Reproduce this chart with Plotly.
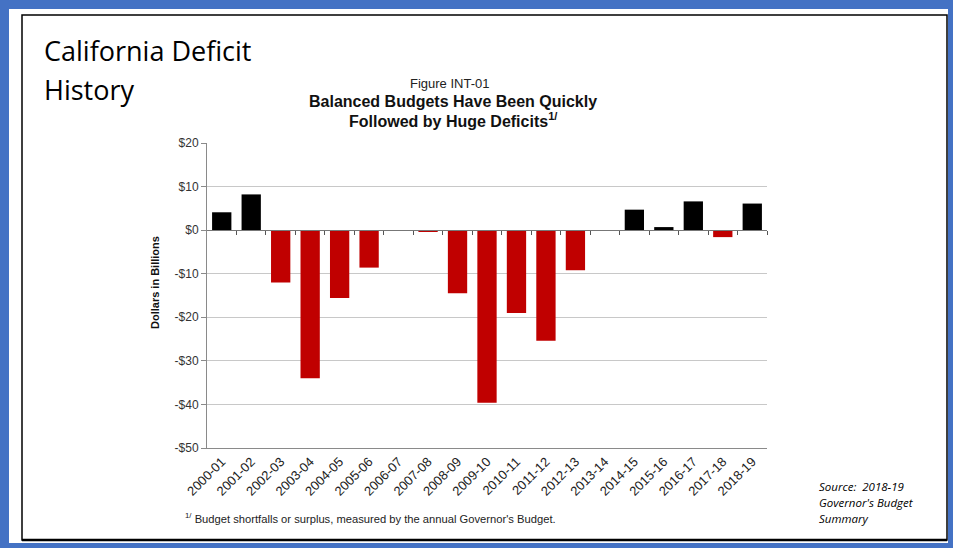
import plotly.graph_objects as go

# Budget balance by fiscal year, in billions of dollars
years = ["2000-01", "2001-02", "2002-03", "2003-04", "2004-05", "2005-06",
         "2006-07", "2007-08", "2008-09", "2009-10", "2010-11", "2011-12",
         "2012-13", "2013-14", "2014-15", "2015-16", "2016-17", "2017-18",
         "2018-19"]
balance = [4.1, 8.2, -12.0, -34.0, -15.6, -8.6, 0.0, -0.3, -14.5, -39.6,
           -19.0, -25.4, -9.2, 0.0, 4.7, 0.7, 6.6, -1.6, 6.1]

y_ticks = [20, 10, 0, -10, -20, -30, -40, -50]
y_tick_text = [("-$%d" % abs(v)) if v < 0 else ("$%d" % v) for v in y_ticks]

SURPLUS = "#000000"
DEFICIT = "#C00000"
AXIS_GREY = "#8a8a8a"
GRID_GREY = "#c8c8c8"

W, H = 953, 548
PL, PR, PT, PB = 207, 767, 143, 448   # plot area in page pixels


def px(x):
    return (x - PL) / (PR - PL)


def py(y):
    return (PB - y) / (PB - PT)


colors = [SURPLUS if v >= 0 else DEFICIT for v in balance]

fig = go.Figure()
fig.add_trace(go.Bar(
    x=years, y=balance,
    marker=dict(color=colors, line=dict(width=0)),
    hoverinfo="x+y", showlegend=False,
))
# carrier for the overlaid axis that draws the zero line with boundary ticks
fig.add_trace(go.Scatter(x=[None], y=[None], xaxis="x2", yaxis="y",
                         showlegend=False, hoverinfo="skip"))

n = len(years)
lo, hi = min(y_ticks), max(y_ticks)

fig.update_layout(
    width=W, height=H,
    margin=dict(l=PL, r=W - PR, t=PT, b=H - PB, pad=0),
    paper_bgcolor="white", plot_bgcolor="white",
    bargap=0.345,
    font=dict(family="Liberation Sans, Arial, sans-serif", color="#222222"),
    xaxis=dict(
        type="category", categoryorder="array", categoryarray=years,
        range=[-0.5, n - 0.5],
        showline=True, linecolor=AXIS_GREY, linewidth=1,
        ticks="", tickangle=-45,
        tickfont=dict(size=13, color="#222222"),
        showgrid=False, zeroline=False, fixedrange=True,
    ),
    xaxis2=dict(
        overlaying="x", anchor="free", position=(0 - lo) / (hi - lo),
        side="bottom", type="linear", range=[-0.5, n - 0.5],
        tickmode="array", tickvals=[i + 0.5 for i in range(n)],
        showticklabels=False, ticks="outside", ticklen=4, tickwidth=1,
        tickcolor="#555555", showline=True, linecolor="#777777", linewidth=1,
        showgrid=False, zeroline=False, fixedrange=True,
    ),
    yaxis=dict(
        range=[lo, hi], tickmode="array", tickvals=y_ticks,
        ticktext=y_tick_text,
        showline=True, linecolor=AXIS_GREY, linewidth=1,
        ticks="outside", ticklen=5, tickcolor=AXIS_GREY,
        tickfont=dict(size=12, color="#333333"),
        showgrid=True, gridcolor=GRID_GREY, gridwidth=1,
        zeroline=False, fixedrange=True,
    ),
)

shapes = []
# blue slide frame
frame_blue = "#4472C4"
for x0, y0, x1, y1 in [(0, 0, 9, H), (0, 0, W, 9), (948, 0, W, H), (0, 543, W, H)]:
    shapes.append(dict(type="rect", xref="paper", yref="paper",
                       x0=px(x0), x1=px(x1), y0=py(y0), y1=py(y1),
                       fillcolor=frame_blue, line=dict(width=0), layer="below"))
# inner black panel border
shapes.append(dict(type="rect", xref="paper", yref="paper",
                   x0=px(22), x1=px(947), y0=py(15), y1=py(540),
                   line=dict(color="#000000", width=1.5), layer="below"))
shapes.append(dict(type="line", xref="paper", yref="paper",
                   x0=px(22), x1=px(947), y0=py(540), y1=py(540),
                   line=dict(color="#000000", width=2.5), layer="below"))
fig.update_layout(shapes=shapes)

ann = []
ann.append(dict(text="California Deficit", x=px(42), y=py(50), xanchor="left",
                yanchor="middle", font=dict(family="Open Sans", size=27, color="#000000")))
ann.append(dict(text="History", x=px(42), y=py(89), xanchor="left",
                yanchor="middle", font=dict(family="Open Sans", size=27, color="#000000")))
ann.append(dict(text="Figure INT-01", x=px(449), y=py(84), xanchor="center",
                yanchor="middle", font=dict(size=13, color="#222222")))
ann.append(dict(text="<b>Balanced Budgets Have Been Quickly</b>", x=px(453), y=py(102),
                xanchor="center", yanchor="middle", font=dict(size=16, color="#111111")))
ann.append(dict(text="<b>Followed by Huge Deficits<sup>1/</sup></b>", x=px(453), y=py(120),
                xanchor="center", yanchor="middle", font=dict(size=16, color="#111111")))
ann.append(dict(text="<b>Dollars in Billions</b>", x=px(155), y=py(283), textangle=-90,
                xanchor="center", yanchor="middle", font=dict(size=11, color="#111111")))
ann.append(dict(text="<sup>1/</sup> Budget shortfalls or surplus, measured by the annual Governor's Budget.",
                x=px(183), y=py(518), xanchor="left", yanchor="middle",
                font=dict(size=11.2, color="#222222")))
for i, line in enumerate(["Source:  2018-19", "Governor's Budget", "Summary"]):
    ann.append(dict(text="<i>%s</i>" % line, x=px(817), y=py(486 + 16 * i),
                    xanchor="left", yanchor="middle",
                    font=dict(family="Open Sans", size=11.5, color="#000000")))
for a in ann:
    a.update(xref="paper", yref="paper", showarrow=False)
fig.update_layout(annotations=ann)

fig.write_html("out.html")
